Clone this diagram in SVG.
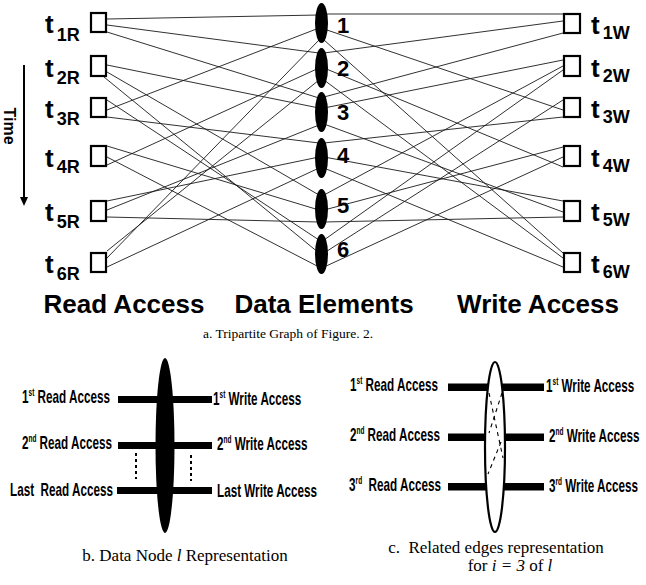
<svg xmlns="http://www.w3.org/2000/svg" width="646" height="585" viewBox="0 0 646 585">
<style>
.bg{fill:#fff}
.box{fill:#fff;stroke:#000;stroke-width:2.2}
.ell{fill:#000}
.edge{stroke:#1a1a1a;stroke-width:0.9;fill:none}
.t{font-family:"Liberation Sans",Arial,sans-serif;font-weight:bold;font-size:26px;fill:#000}
.sub{font-size:18px}
.num{font-family:"Liberation Sans",Arial,sans-serif;font-weight:bold;font-size:22px;fill:#000}
.head{font-family:"Liberation Sans",Arial,sans-serif;font-weight:bold;font-size:26px;fill:#000}
.cap{font-family:"Liberation Serif","Times New Roman",serif;font-size:17px;fill:#000}
.lab{font-family:"Liberation Sans",Arial,sans-serif;font-weight:bold;font-size:18px;fill:#000;white-space:pre}
.sup{font-size:10px}
.bar{fill:#000}
.dot{stroke:#000;stroke-width:2;stroke-dasharray:3 3;fill:none}
.dash{stroke:#000;stroke-width:1.1;stroke-dasharray:4 4;fill:none}
</style>
<rect class="bg" x="0" y="0" width="646" height="585"/>

<g id="connectors">
  <!-- read side -->
  <line class="edge" x1="107" y1="19" x2="319" y2="15"/>
  <line class="edge" x1="107" y1="25" x2="319" y2="53"/>
  <line class="edge" x1="107" y1="32" x2="319" y2="98"/>
  <line class="edge" x1="107" y1="65" x2="319" y2="108"/>
  <line class="edge" x1="107" y1="72" x2="319" y2="195"/>
  <line class="edge" x1="104" y1="77" x2="319" y2="253"/>
  <line class="edge" x1="107" y1="110" x2="319" y2="28"/>
  <line class="edge" x1="107" y1="100" x2="319" y2="240"/>
  <line class="edge" x1="107" y1="117" x2="319" y2="143"/>
  <line class="edge" x1="107" y1="165" x2="319" y2="68"/>
  <line class="edge" x1="107" y1="146" x2="319" y2="210"/>
  <line class="edge" x1="107" y1="157" x2="319" y2="267"/>
  <line class="edge" x1="107" y1="201" x2="319" y2="157"/>
  <line class="edge" x1="107" y1="210" x2="319" y2="125"/>
  <line class="edge" x1="107" y1="217" x2="319" y2="222"/>
  <line class="edge" x1="107" y1="251" x2="319" y2="80"/>
  <line class="edge" x1="107" y1="258" x2="319" y2="40"/>
  <line class="edge" x1="107" y1="267" x2="319" y2="168"/>
  <!-- write side -->
  <line class="edge" x1="324" y1="14" x2="563" y2="14"/>
  <line class="edge" x1="324" y1="29" x2="563" y2="110"/>
  <line class="edge" x1="324" y1="40" x2="563" y2="253"/>
  <line class="edge" x1="324" y1="53" x2="563" y2="21"/>
  <line class="edge" x1="324" y1="68" x2="563" y2="167"/>
  <line class="edge" x1="324" y1="80" x2="563" y2="258"/>
  <line class="edge" x1="324" y1="97" x2="563" y2="33"/>
  <line class="edge" x1="324" y1="108" x2="563" y2="60"/>
  <line class="edge" x1="324" y1="124" x2="563" y2="212"/>
  <line class="edge" x1="324" y1="143" x2="563" y2="117"/>
  <line class="edge" x1="324" y1="157" x2="563" y2="201"/>
  <line class="edge" x1="324" y1="168" x2="563" y2="267"/>
  <line class="edge" x1="324" y1="195" x2="563" y2="66"/>
  <line class="edge" x1="324" y1="210" x2="563" y2="147"/>
  <line class="edge" x1="324" y1="222" x2="563" y2="217"/>
  <line class="edge" x1="324" y1="240" x2="563" y2="70"/>
  <line class="edge" x1="324" y1="253" x2="563" y2="100"/>
  <line class="edge" x1="324" y1="267" x2="563" y2="157"/>
</g>

<!-- read access nodes -->
<g id="t1R"><rect class="box" x="91" y="13" width="15" height="19"/><text class="t" x="45" y="33">t<tspan class="sub" dx="3" dy="8">1R</tspan></text></g>
<g id="t2R"><rect class="box" x="91" y="56" width="15" height="20"/><text class="t" x="45" y="77">t<tspan class="sub" dx="3" dy="7">2R</tspan></text></g>
<g id="t3R"><rect class="box" x="91" y="98" width="15" height="19"/><text class="t" x="45" y="118">t<tspan class="sub" dx="3" dy="7">3R</tspan></text></g>
<g id="t4R"><rect class="box" x="91" y="146" width="15" height="20"/><text class="t" x="45" y="167">t<tspan class="sub" dx="3" dy="6">4R</tspan></text></g>
<g id="t5R"><rect class="box" x="91" y="201" width="15" height="20"/><text class="t" x="45" y="221">t<tspan class="sub" dx="3" dy="7">5R</tspan></text></g>
<g id="t6R"><rect class="box" x="91" y="253" width="15" height="19"/><text class="t" x="45" y="273">t<tspan class="sub" dx="3" dy="7">6R</tspan></text></g>

<!-- data element nodes -->
<g id="d1"><ellipse class="ell" cx="321.5" cy="23" rx="6.5" ry="20"/><text class="num" x="337" y="33">1</text></g>
<g id="d2"><ellipse class="ell" cx="321.5" cy="68" rx="6.5" ry="20"/><text class="num" x="337" y="76">2</text></g>
<g id="d3"><ellipse class="ell" cx="321.5" cy="112" rx="6.5" ry="20"/><text class="num" x="337" y="120">3</text></g>
<g id="d4"><ellipse class="ell" cx="321.5" cy="158" rx="6.5" ry="20"/><text class="num" x="337" y="163">4</text></g>
<g id="d5"><ellipse class="ell" cx="321.5" cy="209" rx="6.5" ry="20"/><text class="num" x="337" y="213">5</text></g>
<g id="d6"><ellipse class="ell" cx="321.5" cy="254" rx="6.5" ry="20"/><text class="num" x="337" y="257">6</text></g>

<!-- write access nodes -->
<g id="t1W"><rect class="box" x="564" y="14" width="16" height="19"/><text class="t" x="591" y="34">t<tspan class="sub" dx="3" dy="5">1W</tspan></text></g>
<g id="t2W"><rect class="box" x="564" y="56" width="16" height="20"/><text class="t" x="591" y="77">t<tspan class="sub" dx="3" dy="5">2W</tspan></text></g>
<g id="t3W"><rect class="box" x="564" y="98" width="16" height="19"/><text class="t" x="591" y="118">t<tspan class="sub" dx="3" dy="5">3W</tspan></text></g>
<g id="t4W"><rect class="box" x="564" y="146" width="16" height="20"/><text class="t" x="591" y="167">t<tspan class="sub" dx="3" dy="5">4W</tspan></text></g>
<g id="t5W"><rect class="box" x="564" y="201" width="16" height="20"/><text class="t" x="591" y="221">t<tspan class="sub" dx="3" dy="5">5W</tspan></text></g>
<g id="t6W"><rect class="box" x="564" y="253" width="16" height="19"/><text class="t" x="591" y="273">t<tspan class="sub" dx="3" dy="5">6W</tspan></text></g>

<!-- time arrow -->
<g id="time">
  <text class="t" style="font-size:16px" transform="translate(10,126) rotate(90)" text-anchor="middle" dy="6">Time</text>
  <line x1="24" y1="65" x2="24" y2="199" stroke="#000" stroke-width="2"/>
  <polygon points="20,197 28,197 24,206" fill="#000"/>
</g>

<!-- column headings and caption a -->
<text class="head" x="124" y="313" text-anchor="middle">Read Access</text>
<text class="head" x="324" y="313" text-anchor="middle">Data Elements</text>
<text class="head" x="538" y="313" text-anchor="middle">Write Access</text>
<text class="cap" style="font-size:13.5px" x="203" y="338">a. Tripartite Graph of Figure. 2.</text>

<!-- b. Data Node l representation -->
<g id="nodeB">
  <rect class="bar" x="118" y="396" width="94" height="7"/>
  <rect class="bar" x="118" y="442" width="94" height="7"/>
  <rect class="bar" x="117" y="487" width="95" height="7"/>
  <ellipse class="ell" cx="165" cy="445.5" rx="9.5" ry="87.5"/>
  <line class="dot" x1="136" y1="453" x2="136" y2="479"/>
  <line class="dot" x1="191" y1="455" x2="191" y2="481"/>
  <text class="lab" transform="translate(110,403) scale(0.65,1)" text-anchor="end">1<tspan class="sup" dy="-7">st</tspan><tspan dy="7"> Read Access</tspan></text>
  <text class="lab" transform="translate(112,449) scale(0.65,1)" text-anchor="end">2<tspan class="sup" dy="-7">nd</tspan><tspan dy="7"> Read Access</tspan></text>
  <text class="lab" transform="translate(113,496) scale(0.65,1)" text-anchor="end">Last  Read Access</text>
  <text class="lab" transform="translate(213,405) scale(0.65,1)">1<tspan class="sup" dy="-7">st</tspan><tspan dy="7"> Write Access</tspan></text>
  <text class="lab" transform="translate(217,450) scale(0.65,1)">2<tspan class="sup" dy="-7">nd</tspan><tspan dy="7"> Write Access</tspan></text>
  <text class="lab" transform="translate(217,497) scale(0.65,1)">Last Write Access</text>
</g>
<text class="cap" x="185" y="561" text-anchor="middle">b. Data Node <tspan font-style="italic">l</tspan> Representation</text>

<!-- c. Related edges representation -->
<g id="nodeC">
  <rect class="bar" x="448" y="383.5" width="44" height="7.5"/>
  <rect class="bar" x="499" y="383.5" width="45" height="7.5"/>
  <rect class="bar" x="448" y="433.5" width="44" height="7.5"/>
  <rect class="bar" x="499" y="433.5" width="45" height="7.5"/>
  <rect class="bar" x="448" y="483" width="44" height="7.5"/>
  <rect class="bar" x="499" y="483" width="45" height="7.5"/>
  <ellipse cx="495" cy="447" rx="10" ry="85" fill="#fff" stroke="#000" stroke-width="2.2"/>
  <line class="dash" x1="489" y1="393" x2="503" y2="458"/>
  <line class="dash" x1="502" y1="393" x2="489" y2="433"/>
  <line class="dash" x1="501" y1="442" x2="488" y2="474"/>
  <text class="lab" transform="translate(438,391) scale(0.65,1)" text-anchor="end">1<tspan class="sup" dy="-7">st</tspan><tspan dy="7"> Read Access</tspan></text>
  <text class="lab" transform="translate(440,441) scale(0.65,1)" text-anchor="end">2<tspan class="sup" dy="-7">nd</tspan><tspan dy="7"> Read Access</tspan></text>
  <text class="lab" transform="translate(441,491) scale(0.65,1)" text-anchor="end">3<tspan class="sup" dy="-7">rd</tspan><tspan dy="7">  Read Access</tspan></text>
  <text class="lab" transform="translate(546,392) scale(0.65,1)">1<tspan class="sup" dy="-7">st</tspan><tspan dy="7"> Write Access</tspan></text>
  <text class="lab" transform="translate(549,442) scale(0.65,1)">2<tspan class="sup" dy="-7">nd</tspan><tspan dy="7"> Write Access</tspan></text>
  <text class="lab" transform="translate(549,492) scale(0.65,1)">3<tspan class="sup" dy="-7">rd</tspan><tspan dy="7"> Write Access</tspan></text>
</g>
<text class="cap" x="496" y="553" text-anchor="middle" style="white-space:pre">c.  Related edges representation</text>
<text class="cap" x="510" y="571" text-anchor="middle">for <tspan font-style="italic">i = 3</tspan> of <tspan font-style="italic">l</tspan></text>
</svg>
